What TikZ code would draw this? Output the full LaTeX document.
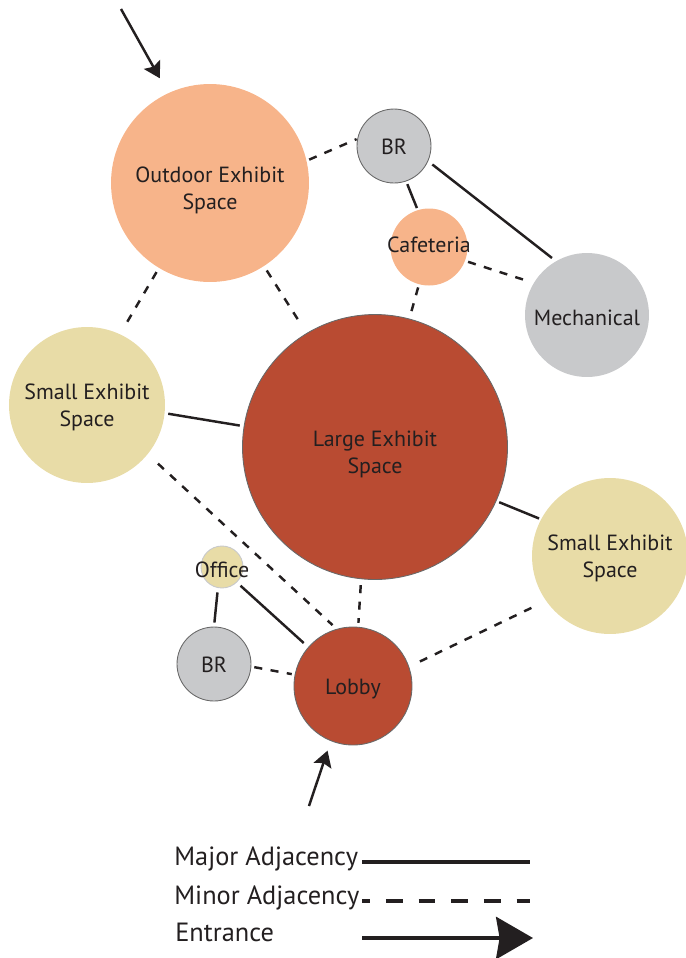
\documentclass[tikz,border=0pt]{standalone}
\usepackage{fontspec}
\setmainfont{PT Sans}
\usetikzlibrary{arrows.meta, positioning}
\definecolor{mypeach}{RGB}{247,180,138}
\definecolor{myrust}{RGB}{185,75,50}
\definecolor{mysand}{RGB}{232,220,167}
\definecolor{mygrey}{RGB}{200,201,203}
\definecolor{myedge}{RGB}{105,105,105}
\definecolor{mydark}{RGB}{35,31,32}
\tikzset{
  room/.style={circle, inner sep=0pt},
  edged/.style={draw=myedge, line width=0.5pt},
  roomtxt/.style={text=mydark, align=center, yshift=-1.5pt,
    font=\fontsize{12.5}{15.3}\selectfont},
  major/.style={line width=1.4pt, color=mydark},
  minor/.style={line width=1.4pt, color=mydark, dash pattern=on 4.6pt off 4.8pt},
  entry/.style={-{Stealth[length=9pt, width=10.5pt, inset=1.5pt]}, line width=1.4pt, color=mydark},
  legend/.style={text=mydark, font=\fontsize{15}{18}\selectfont, inner sep=0pt},
  legmajor/.style={line width=2.2pt, color=mydark},
  legminor/.style={line width=2.2pt, color=mydark, dash pattern=on 9.6pt off 9pt, dash phase=5pt},
  legentry/.style={-{Stealth[length=21pt, width=24pt, inset=2pt]}, line width=2.2pt, color=mydark}
}

\begin{document}
\begin{tikzpicture}[x={(0.02cm,0)}, y={(0,-0.02cm)}]
  \useasboundingbox (0,0) rectangle (686,958);

  % Rooms
  \node[room, fill=mypeach, minimum size=3.96cm,
    label={[roomtxt, yshift=-2.5pt]center:Outdoor Exhibit\\Space}] (outdoor) at (210,183) {};
  \node[room, fill=mygrey, edged, minimum size=1.48cm,
    label={[roomtxt, yshift=1pt]center:BR}] (br1) at (394,146) {};
  \node[room, fill=mypeach, minimum size=1.54cm,
    label={[roomtxt, yshift=2.5pt]center:Cafeteria}] (cafe) at (429,247) {};
  \node[room, fill=mygrey, minimum size=2.48cm,
    label={[roomtxt]center:Mechanical}] (mech) at (587,315) {};
  \node[room, fill=myrust, edged, minimum size=5.3cm,
    label={[roomtxt, yshift=-2.5pt]center:Large Exhibit\\Space}] (large) at (375,447) {};
  \node[room, fill=mysand, minimum size=3.12cm,
    label={[roomtxt]center:Small Exhibit\\Space}] (smallw) at (87,405) {};
  \node[room, fill=mysand, minimum size=3.12cm,
    label={[roomtxt]center:Small Exhibit\\Space}] (smalle) at (610,556) {};
  \node[room, fill=mysand, draw=mygrey, line width=0.5pt, minimum size=0.84cm,
    label={[roomtxt]center:Office}] (office) at (222,567) {};
  \node[room, fill=mygrey, edged, minimum size=1.48cm,
    label={[roomtxt, yshift=1pt]center:BR}] (br2) at (214,664) {};
  \node[room, fill=myrust, edged, minimum size=2.36cm,
    label={[roomtxt]center:Lobby}] (lobby) at (353,686) {};

  % Major adjacencies
  \draw[major, shorten <=1.7pt, shorten >=1.1pt] (br1.-71) -- (cafe.107);
  \draw[major, shorten <=3pt, shorten >=2.8pt] (br1.-24) -- (mech.120);
  \draw[major, shorten <=1.9pt, shorten >=2.3pt] (smallw.-6) -- (large.171);
  \draw[major, shorten <=1.7pt, shorten >=1.1pt] (large.-24) -- (smalle.152);
  \draw[major, shorten <=2.5pt, shorten >=2.3pt] (office.-101) -- (br2.90);
  \draw[major, shorten <=2.8pt, shorten >=3.4pt] (office.-46) -- (lobby.139);

  % Minor adjacencies
  \draw[minor, shorten <=1.5pt, shorten >=0.4pt] (outdoor.13) -- (br1.169);
  \draw[minor, shorten <=1.7pt, shorten >=4pt] (cafe.-21) -- (mech.149);
  \draw[minor, shorten <=1.7pt, shorten >=4pt] (cafe.-105) -- (large.75);
  \draw[minor, shorten <=2.6pt, shorten >=6pt] (outdoor.-121) -- (smallw.65);
  \draw[minor, shorten <=2.8pt, shorten >=7pt] (outdoor.-57) -- (large.121);
  \draw[minor, shorten <=7.8pt, shorten >=3.2pt] (smallw.-39) -- (lobby.106);
  \draw[minor, shorten <=3.4pt, shorten >=2.3pt] (large.-96) -- (lobby.85);
  \draw[minor, shorten <=6.8pt, shorten >=6.2pt] (lobby.19) -- (smalle.-145);
  \draw[minor, shorten <=1.7pt, shorten >=1.7pt] (br2.-4) -- (lobby.169);

  % Entrances
  \coordinate (gate1) at (121,9);
  \coordinate (gate2) at (309,806);
  \draw[entry, shorten >=9.6pt] (gate1) -- (outdoor.115);
  \draw[entry, shorten >=5.7pt] (gate2) -- (lobby.-112);

  % Legend
  \node[legend, anchor=base west] (majtxt) at (174,865) {Major Adjacency};
  \node[legend, anchor=base west] (mintxt) at (174,904) {Minor Adjacency};
  \node[legend, anchor=base west] (enttxt) at (175,941) {Entrance};
  \coordinate (maj1) at (362,862);
  \coordinate (maj2) at (530,862);
  \coordinate (min1) at (362,901);
  \coordinate (min2) at (530,901);
  \coordinate (ent1) at (362,938);
  \coordinate (ent2) at (533,938);
  \draw[legmajor] (maj1) -- (maj2);
  \draw[legminor] (min1) -- (min2);
  \draw[legentry] (ent1) -- (ent2);

\end{tikzpicture}
\end{document}
